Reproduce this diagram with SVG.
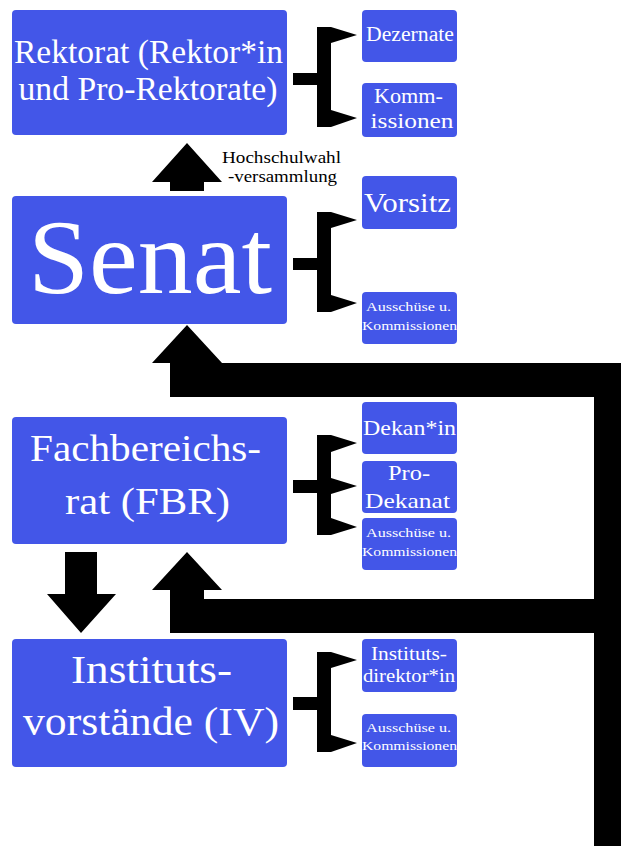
<svg xmlns="http://www.w3.org/2000/svg" width="621" height="846" viewBox="0 0 621 846">
<style>
.box{fill:#4356E8}
.t{fill:#fff;font-family:"Liberation Serif","Times New Roman",serif;text-anchor:middle}
.k{fill:#000;font-family:"Liberation Serif","Times New Roman",serif}
.c{fill:#000}
</style>
<rect width="621" height="846" fill="#fff"/>
<g id="connectors" class="c">
  <!-- Rektorat bracket -->
  <rect x="293" y="73" width="31" height="12"/>
  <rect x="317" y="27" width="14" height="100"/>
  <path d="M317,27 H331 L357,35 L331,43 H317 Z"/>
  <path d="M317,110 H331 L357,118 L331,127 H317 Z"/>
  <!-- Senat bracket -->
  <rect x="293" y="258" width="31" height="12"/>
  <rect x="317" y="212" width="14" height="100"/>
  <path d="M317,212 H331 L357,220 L331,228 H317 Z"/>
  <path d="M317,295 H331 L357,303 L331,312 H317 Z"/>
  <!-- FBR bracket -->
  <rect x="293" y="480" width="31" height="13"/>
  <rect x="317" y="435" width="14" height="100"/>
  <path d="M317,435 H331 L357,443 L331,452 H317 Z"/>
  <path d="M317,478 H331 L357,486 L331,494 H317 Z"/>
  <path d="M317,518 H331 L357,527 L331,535 H317 Z"/>
  <!-- IV bracket -->
  <rect x="293" y="697" width="31" height="13"/>
  <rect x="317" y="652" width="14" height="100"/>
  <path d="M317,652 H331 L357,660 L331,668 H317 Z"/>
  <path d="M317,735 H331 L357,743 L331,752 H317 Z"/>
  <!-- Hochschulwahlversammlung arrow -->
  <path d="M187,143 L222,182 H204 V191 H170 V182 H152 Z"/>
  <!-- Arrow into Senat with big return line -->
  <path d="M187,325 L222,363 H621 V846 H594 V397 H170 V363 H152 Z"/>
  <!-- Arrow into FBR -->
  <path d="M187,552 L222,590 H204 V599 H594 V633 H170 V590 H152 Z"/>
  <!-- Down arrow FBR to IV -->
  <path d="M65,552 H97 V594 H116 L81,633 L47,594 H65 Z"/>
</g>
<g id="rektorat">
  <rect class="box" x="12" y="10" width="275" height="125" rx="4"/>
  <text class="t" x="148.5" y="63" font-size="34" textLength="269" lengthAdjust="spacingAndGlyphs">Rektorat (Rektor*in</text>
  <text class="t" x="148" y="100" font-size="34" textLength="259" lengthAdjust="spacingAndGlyphs">und Pro-Rektorate)</text>
</g>
<g id="dezernate">
  <rect class="box" x="362" y="10" width="95" height="52" rx="4"/>
  <text class="t" x="410" y="41" font-size="20" textLength="88" lengthAdjust="spacingAndGlyphs">Dezernate</text>
</g>
<g id="kommissionen">
  <rect class="box" x="362" y="83" width="95" height="54" rx="4"/>
  <text class="t" x="408.5" y="103" font-size="20" textLength="69" lengthAdjust="spacingAndGlyphs">Komm-</text>
  <text class="t" x="412" y="128" font-size="20" textLength="83" lengthAdjust="spacingAndGlyphs">issionen</text>
</g>
<g id="hochschulwahlversammlung">
  <text class="k" x="222" y="163" font-size="16" textLength="119" lengthAdjust="spacingAndGlyphs">Hochschulwahl</text>
  <text class="k" x="228" y="182" font-size="16" textLength="109" lengthAdjust="spacingAndGlyphs">-versammlung</text>
</g>
<g id="senat">
  <rect class="box" x="12" y="196" width="275" height="128" rx="4"/>
  <text class="t" x="150" y="293" font-size="106" textLength="244" lengthAdjust="spacingAndGlyphs">Senat</text>
</g>
<g id="vorsitz">
  <rect class="box" x="362" y="176" width="95" height="53" rx="4"/>
  <text class="t" x="407.5" y="212" font-size="28" textLength="87" lengthAdjust="spacingAndGlyphs">Vorsitz</text>
</g>
<g id="senat-ausschuesse">
  <rect class="box" x="362" y="292" width="95" height="52" rx="4"/>
  <text class="t" x="408.5" y="311" font-size="13" textLength="85" lengthAdjust="spacingAndGlyphs">Ausschüse u.</text>
  <text class="t" x="409.5" y="330" font-size="13" textLength="95" lengthAdjust="spacingAndGlyphs">Kommissionen</text>
</g>
<g id="fachbereichsrat">
  <rect class="box" x="12" y="417" width="275" height="127" rx="4"/>
  <text class="t" x="145.5" y="461" font-size="38" textLength="231" lengthAdjust="spacingAndGlyphs">Fachbereichs-</text>
  <text class="t" x="147.5" y="514" font-size="38" textLength="165" lengthAdjust="spacingAndGlyphs">rat (FBR)</text>
</g>
<g id="dekanin">
  <rect class="box" x="362" y="402" width="95" height="52" rx="4"/>
  <text class="t" x="409.5" y="435" font-size="22" textLength="93" lengthAdjust="spacingAndGlyphs">Dekan*in</text>
</g>
<g id="prodekanat">
  <rect class="box" x="362" y="461" width="95" height="52" rx="4"/>
  <text class="t" x="409" y="480" font-size="22" textLength="42" lengthAdjust="spacingAndGlyphs">Pro-</text>
  <text class="t" x="407.5" y="508" font-size="22" textLength="85" lengthAdjust="spacingAndGlyphs">Dekanat</text>
</g>
<g id="fbr-ausschuesse">
  <rect class="box" x="362" y="518" width="95" height="52" rx="4"/>
  <text class="t" x="408.5" y="537" font-size="13" textLength="85" lengthAdjust="spacingAndGlyphs">Ausschüse u.</text>
  <text class="t" x="409.5" y="556" font-size="13" textLength="95" lengthAdjust="spacingAndGlyphs">Kommissionen</text>
</g>
<g id="institutsvorstaende">
  <rect class="box" x="12" y="639" width="275" height="128" rx="4"/>
  <text class="t" x="151.5" y="683" font-size="39" textLength="161" lengthAdjust="spacingAndGlyphs">Instituts-</text>
  <text class="t" x="151" y="735" font-size="39" textLength="256" lengthAdjust="spacingAndGlyphs">vorstände (IV)</text>
</g>
<g id="institutsdirektorin">
  <rect class="box" x="362" y="639" width="95" height="53" rx="4"/>
  <text class="t" x="409" y="660" font-size="18" textLength="76" lengthAdjust="spacingAndGlyphs">Instituts-</text>
  <text class="t" x="409" y="682" font-size="18" textLength="92" lengthAdjust="spacingAndGlyphs">direktor*in</text>
</g>
<g id="iv-ausschuesse">
  <rect class="box" x="362" y="714" width="95" height="53" rx="4"/>
  <text class="t" x="408.5" y="732" font-size="13" textLength="85" lengthAdjust="spacingAndGlyphs">Ausschüse u.</text>
  <text class="t" x="409.5" y="750" font-size="13" textLength="95" lengthAdjust="spacingAndGlyphs">Kommissionen</text>
</g>
</svg>
